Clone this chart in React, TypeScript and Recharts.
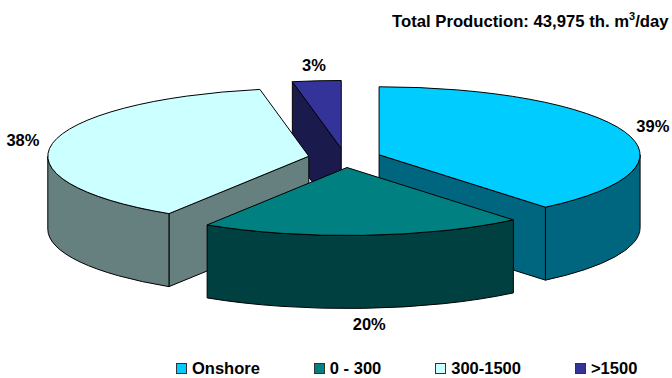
import React from 'react'
import { PieChart, Pie, Legend } from 'recharts'

const categories = ['Onshore', '0 - 300', '300-1500', '>1500']
const shares = [39, 20, 38, 3]
const topColors = ['#00CCFF', '#008080', '#CCFFFF', '#333399']
const sideColors = ['#006680', '#004040', '#668080', '#1A1A4D']

// paint order, back to front
const paintOrder = ['>1500', 'Onshore', '300-1500', '0 - 300']

const slices = categories.map((name, i) => ({
  name,
  value: shares[i],
  fill: topColors[i],
  side: sideColors[i],
}))

const FONT = '"Liberation Sans", Arial, sans-serif'
const WIDTH = 672
const HEIGHT = 378
const CX = 344.7
const CY = 158
const RX = 261
const RY = 68
const DEPTH = 73
const EXPLODE = 0.14

const rad = (deg: number) => (deg * Math.PI) / 180

// Recharts gives angles counter-clockwise from 3 o'clock, the tilted pie wants clockwise from 12
function Slice3D(props: any) {
  const { cx, cy, outerRadius: rx, startAngle, endAngle, fill, side } = props
  const ry = (rx * RY) / RX
  const from = 90 - startAngle
  const to = 90 - endAngle
  const mid = rad((from + to) / 2)
  const ox = cx + Math.sin(mid) * rx * EXPLODE
  const oy = cy - Math.cos(mid) * ry * EXPLODE
  const at = (deg: number, drop = 0) => {
    const x = ox + rx * Math.sin(rad(deg))
    const y = oy - ry * Math.cos(rad(deg)) + drop
    return `${x.toFixed(2)} ${y.toFixed(2)}`
  }
  const arc = (a: number, b: number, sweep: number) =>
    `A ${rx} ${ry} 0 ${Math.abs(b - a) > 180 ? 1 : 0} ${sweep} ${at(b, sweep ? 0 : DEPTH)}`

  const wallFrom = Math.max(from, 90)
  const wallTo = Math.min(to, 270)
  const cut = (deg: number) =>
    `M ${ox} ${oy} L ${at(deg)} L ${at(deg, DEPTH)} L ${ox} ${oy + DEPTH} Z`
  const line = { stroke: '#000', strokeWidth: 1, strokeLinejoin: 'round' as const }

  return (
    <g>
      {Math.sin(rad(from)) < -0.001 && <path d={cut(from)} fill={side} {...line} />}
      {Math.sin(rad(to)) > 0.001 && <path d={cut(to)} fill={side} {...line} />}
      {wallFrom < wallTo && (
        <path
          d={`M ${at(wallFrom)} ${arc(wallFrom, wallTo, 1)} L ${at(wallTo, DEPTH)} ${arc(wallTo, wallFrom, 0)} Z`}
          fill={side}
          {...line}
        />
      )}
      <path d={`M ${ox} ${oy} L ${at(from)} ${arc(from, to, 1)} Z`} fill={fill} {...line} />
    </g>
  )
}

function percentLabel(props: any) {
  const { cx, cy, outerRadius: rx, midAngle, value, name } = props
  const ry = (rx * RY) / RX
  const sin = Math.cos(rad(midAngle))
  const cos = Math.sin(rad(midAngle))
  // the front label sits a little right of its slice's middle
  const nudge = name === '0 - 300' ? 4 : 0
  const x = cx + sin * (rx * (1 + EXPLODE) + 30) + nudge
  const y = cy - cos * (ry * (1 + EXPLODE) + 16) + Math.max(0, -cos) * DEPTH
  return (
    <text
      key={name}
      x={x}
      y={y}
      textAnchor="middle"
      dominantBaseline="central"
      fontFamily={FONT}
      fontWeight="bold"
      fontSize={16.5}
      fill="#000"
    >
      {value}%
    </text>
  )
}

function LegendRow() {
  return (
    <div style={{ display: 'flex', gap: 54, fontFamily: FONT, fontWeight: 'bold', fontSize: 16.5, lineHeight: '13px', whiteSpace: 'nowrap' }}>
      {slices.map(s => (
        <div key={s.name} style={{ display: 'flex', alignItems: 'center', gap: 5 }}>
          <span style={{ width: 9, height: 9, background: s.fill, border: '1px solid #333', display: 'inline-block' }} />
          <span>{s.name}</span>
        </div>
      ))}
    </div>
  )
}

export default function App() {
  return (
    <div style={{ position: 'absolute', left: 0, top: 0, width: WIDTH, height: HEIGHT, background: '#fff', overflow: 'hidden' }}>
      <div style={{ position: 'absolute', left: 392, top: 12, fontFamily: FONT, fontWeight: 'bold', fontSize: 16.7, lineHeight: '20px', whiteSpace: 'nowrap' }}>
        Total Production: 43,975 th. m<sup style={{ fontSize: 11, lineHeight: 0 }}>3</sup>/day
      </div>
      <PieChart width={WIDTH} height={HEIGHT} margin={{ top: 0, right: 0, bottom: 0, left: 0 }} style={{ position: 'absolute', left: 0, top: 0 }}>
        {paintOrder.map((name, i) => (
          <Pie
            key={name}
            data={slices}
            dataKey="value"
            nameKey="name"
            cx={CX}
            cy={CY}
            outerRadius={RX}
            startAngle={90}
            endAngle={-270}
            isAnimationActive={false}
            legendType="none"
            labelLine={false}
            label={i === paintOrder.length - 1 ? percentLabel : false}
            shape={(p: any) => (p.name === name ? <Slice3D {...p} /> : <g />)}
          />
        ))}
        <Legend content={LegendRow} wrapperStyle={{ left: 176, top: 362, bottom: 'auto', width: 'auto' }} />
      </PieChart>
    </div>
  )
}
